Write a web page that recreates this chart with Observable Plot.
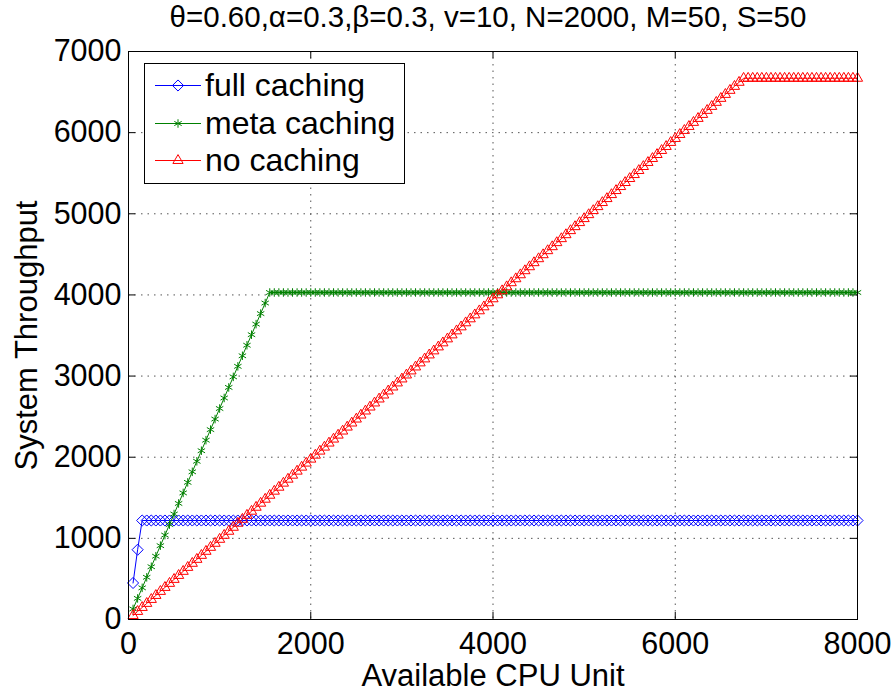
<!DOCTYPE html>
<html><head><meta charset="utf-8">
<script src="https://cdn.jsdelivr.net/npm/d3@7"></script>
<script src="https://cdn.jsdelivr.net/npm/@observablehq/plot@0.6"></script>
<style>
body{margin:0;background:#fff;font-family:"Liberation Sans",Arial,Helvetica,sans-serif;}
#wrap{position:relative;width:894px;height:695px;}
#legend{position:absolute;left:144px;top:63px;width:259px;height:119px;border:1px solid #000;background:#fff;}
.row{position:absolute;left:0;height:37px;width:259px;}
.row svg{position:absolute;left:0;top:0;}
.row span{position:absolute;left:60px;top:0;line-height:37px;font-size:32px;color:#000;white-space:nowrap;}
</style></head>
<body><div id="wrap"></div>
<script>
const title = "θ=0.60,α=0.3,β=0.3, v=10, N=2000, M=50, S=50";
const xLabel = "Available CPU Unit";
const yLabel = "System Throughput";
const xTicks = [0, 2000, 4000, 6000, 8000];
const yTicks = [0, 1000, 2000, 3000, 4000, 5000, 6000, 7000];
const seriesNames = ["full caching", "meta caching", "no caching"];
const seriesColors = ["#0000ff", "#008000", "#ff0000"];

const cpu = [
50,100,150,200,250,300,350,400,450,500,
550,600,650,700,750,800,850,900,950,1000,
1050,1100,1150,1200,1250,1300,1350,1400,1450,1500,
1550,1600,1650,1700,1750,1800,1850,1900,1950,2000,
2050,2100,2150,2200,2250,2300,2350,2400,2450,2500,
2550,2600,2650,2700,2750,2800,2850,2900,2950,3000,
3050,3100,3150,3200,3250,3300,3350,3400,3450,3500,
3550,3600,3650,3700,3750,3800,3850,3900,3950,4000,
4050,4100,4150,4200,4250,4300,4350,4400,4450,4500,
4550,4600,4650,4700,4750,4800,4850,4900,4950,5000,
5050,5100,5150,5200,5250,5300,5350,5400,5450,5500,
5550,5600,5650,5700,5750,5800,5850,5900,5950,6000,
6050,6100,6150,6200,6250,6300,6350,6400,6450,6500,
6550,6600,6650,6700,6750,6800,6850,6900,6950,7000,
7050,7100,7150,7200,7250,7300,7350,7400,7450,7500,
7550,7600,7650,7700,7750,7800,7850,7900,7950,8000];

const fullCaching = [
450,860,1220,1220,1220,1220,1220,1220,1220,1220,
1220,1220,1220,1220,1220,1220,1220,1220,1220,1220,
1220,1220,1220,1220,1220,1220,1220,1220,1220,1220,
1220,1220,1220,1220,1220,1220,1220,1220,1220,1220,
1220,1220,1220,1220,1220,1220,1220,1220,1220,1220,
1220,1220,1220,1220,1220,1220,1220,1220,1220,1220,
1220,1220,1220,1220,1220,1220,1220,1220,1220,1220,
1220,1220,1220,1220,1220,1220,1220,1220,1220,1220,
1220,1220,1220,1220,1220,1220,1220,1220,1220,1220,
1220,1220,1220,1220,1220,1220,1220,1220,1220,1220,
1220,1220,1220,1220,1220,1220,1220,1220,1220,1220,
1220,1220,1220,1220,1220,1220,1220,1220,1220,1220,
1220,1220,1220,1220,1220,1220,1220,1220,1220,1220,
1220,1220,1220,1220,1220,1220,1220,1220,1220,1220,
1220,1220,1220,1220,1220,1220,1220,1220,1220,1220,
1220,1220,1220,1220,1220,1220,1220,1220,1220,1220];

const metaCaching = [
130,260,390,520,650,780,910,1040,1170,1300,
1430,1560,1690,1820,1950,2080,2210,2340,2470,2600,
2730,2860,2990,3120,3250,3380,3510,3640,3770,3900,
4030,4030,4030,4030,4030,4030,4030,4030,4030,4030,
4030,4030,4030,4030,4030,4030,4030,4030,4030,4030,
4030,4030,4030,4030,4030,4030,4030,4030,4030,4030,
4030,4030,4030,4030,4030,4030,4030,4030,4030,4030,
4030,4030,4030,4030,4030,4030,4030,4030,4030,4030,
4030,4030,4030,4030,4030,4030,4030,4030,4030,4030,
4030,4030,4030,4030,4030,4030,4030,4030,4030,4030,
4030,4030,4030,4030,4030,4030,4030,4030,4030,4030,
4030,4030,4030,4030,4030,4030,4030,4030,4030,4030,
4030,4030,4030,4030,4030,4030,4030,4030,4030,4030,
4030,4030,4030,4030,4030,4030,4030,4030,4030,4030,
4030,4030,4030,4030,4030,4030,4030,4030,4030,4030,
4030,4030,4030,4030,4030,4030,4030,4030,4030,4030];

const noCaching = [
49,99,148,198,247,296,346,395,445,494,
543,593,642,692,741,790,840,889,939,988,
1037,1087,1136,1186,1235,1284,1334,1383,1433,1482,
1531,1581,1630,1680,1729,1778,1828,1877,1927,1976,
2025,2075,2124,2174,2223,2272,2322,2371,2421,2470,
2519,2569,2618,2668,2717,2766,2816,2865,2915,2964,
3013,3063,3112,3162,3211,3260,3310,3359,3409,3458,
3507,3557,3606,3656,3705,3754,3804,3853,3903,3952,
4001,4051,4100,4150,4199,4248,4298,4347,4397,4446,
4495,4545,4594,4644,4693,4742,4792,4841,4891,4940,
4989,5039,5088,5138,5187,5236,5286,5335,5385,5434,
5483,5533,5582,5632,5681,5730,5780,5829,5879,5928,
5977,6027,6076,6126,6175,6224,6274,6323,6373,6422,
6471,6521,6570,6620,6669,6670,6670,6670,6670,6670,
6670,6670,6670,6670,6670,6670,6670,6670,6670,6670,
6670,6670,6670,6670,6670,6670,6670,6670,6670,6670];

const W = 894, H = 695;
const mL = 128, mR = 37, mT = 51, mB = 76;
const plotW = W - mL - mR, plotH = H - mT - mB;
const tickLen = 7;
const FONT = "'Liberation Sans', Arial, Helvetica, sans-serif";

const seriesValues = [fullCaching, metaCaching, noCaching];
const symbols = ["diamond2", "asterisk", "triangle"];
const radii = [5, 4, 3.8];
const d3Symbols = [d3.symbolDiamond2, d3.symbolAsterisk, d3.symbolTriangle];

const marks = [
  Plot.gridX(xTicks, {stroke: "#555", strokeOpacity: 1, strokeDasharray: "1.5,5"}),
  Plot.gridY(yTicks, {stroke: "#555", strokeOpacity: 1, strokeDasharray: "1.5,5"}),
  Plot.tickX(xTicks, {x: d => d, insetTop: plotH - tickLen, stroke: "#000"}),
  Plot.tickX(xTicks, {x: d => d, insetBottom: plotH - tickLen, stroke: "#000"}),
  Plot.tickY(yTicks, {y: d => d, insetRight: plotW - tickLen, stroke: "#000"}),
  Plot.tickY(yTicks, {y: d => d, insetLeft: plotW - tickLen, stroke: "#000"})
];
seriesValues.forEach((vals, i) => {
  const data = cpu.map((x, j) => ({x, y: vals[j]}));
  marks.push(Plot.line(data, {x: "x", y: "y", stroke: seriesColors[i], strokeWidth: 1}));
  marks.push(Plot.dot(data, {x: "x", y: "y", symbol: symbols[i], r: radii[i], stroke: seriesColors[i], fill: "none", strokeWidth: 1}));
});
marks.push(
  Plot.axisX(xTicks, {tickSize: 0, tickPadding: 13, fontSize: 30.5, tickFormat: "d", label: null}),
  Plot.axisY(yTicks, {tickSize: 0, tickPadding: 7, fontSize: 30.5, tickFormat: "d", label: null}),
  Plot.frame({stroke: "#000", strokeWidth: 1}),
  Plot.text([xLabel], {text: d => d, frameAnchor: "bottom", lineAnchor: "middle", textAnchor: "middle", dy: 57, fontSize: 31, fill: "#000"}),
  Plot.text([yLabel], {text: d => d, frameAnchor: "left", lineAnchor: "middle", textAnchor: "middle", rotate: -90, dx: -101, fontSize: 31, fill: "#000"}),
  Plot.text([title], {text: d => d, frameAnchor: "top", lineAnchor: "middle", textAnchor: "middle", dy: -34, dx: -5, fontSize: 29.5, fill: "#000"})
);

const chart = Plot.plot({
  width: W, height: H,
  marginLeft: mL, marginRight: mR, marginTop: mT, marginBottom: mB,
  style: {fontFamily: FONT, background: "#fff", color: "#000", overflow: "visible"},
  x: {domain: [0, 8000], ticks: xTicks},
  y: {domain: [0, 7000], ticks: yTicks},
  marks
});
const wrap = document.getElementById("wrap");
wrap.appendChild(chart);

// legend
const legend = document.createElement("div");
legend.id = "legend";
wrap.appendChild(legend);
seriesNames.forEach((name, i) => {
  const row = document.createElement("div");
  row.className = "row";
  row.style.top = (3 + i * 37.5) + "px";
  const svg = d3.create("svg").attr("width", 60).attr("height", 37);
  svg.append("line").attr("x1", 10).attr("x2", 56).attr("y1", 18.5).attr("y2", 18.5)
    .attr("stroke", seriesColors[i]).attr("stroke-width", 1);
  svg.append("path").attr("transform", "translate(33,18.5)")
    .attr("d", d3.symbol(d3Symbols[i], Math.PI * radii[i] * radii[i])())
    .attr("fill", "none").attr("stroke", seriesColors[i]).attr("stroke-width", 1);
  row.appendChild(svg.node());
  const span = document.createElement("span");
  span.textContent = name;
  row.appendChild(span);
  legend.appendChild(row);
});
</script>
</body></html>
